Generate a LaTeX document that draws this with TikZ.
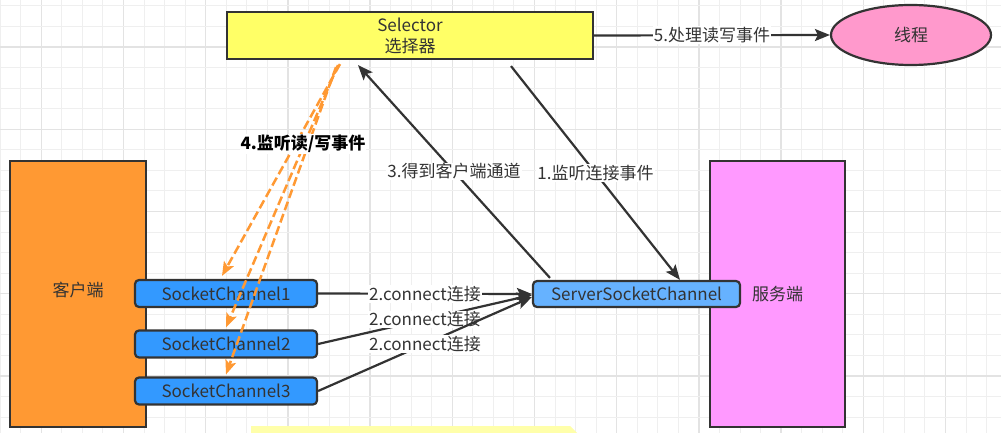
\documentclass[tikz,border=0pt]{standalone}
\usepackage{fontspec}
\setmainfont{Noto Sans CJK SC}
\usetikzlibrary{arrows.meta,calc,shapes.geometric}
\definecolor{bordergray}{HTML}{333333}
\definecolor{textgray}{HTML}{333333}
\definecolor{selyellow}{HTML}{FFFF66}
\definecolor{threadpink}{HTML}{FF99CC}
\definecolor{clientorange}{HTML}{FF9933}
\definecolor{serverpink}{HTML}{FF99FF}
\definecolor{scblue}{HTML}{3399FF}
\definecolor{sscblue}{HTML}{66B2FF}
\definecolor{dashorange}{HTML}{FF9933}
\definecolor{noteyellow}{HTML}{FFFFAA}
\definecolor{gridminor}{HTML}{EFEFEF}
\definecolor{gridmajor}{HTML}{E3E3E3}
\tikzset{
  basefont/.style={font=\fontsize{17}{21}\selectfont, text=textgray},
  boxstyle/.style={basefont, draw=bordergray, line width=2.2pt, inner sep=0pt},
  chanbox/.style={boxstyle, fill=scblue, rounded corners=4pt, minimum width=182pt, minimum height=27pt},
  conn/.style={draw=bordergray, line width=2.2pt, -{Stealth[length=15pt,width=12pt,inset=3pt]}},
  dashconn/.style={draw=dashorange, line width=2.5pt, dash pattern=on 9pt off 4pt, -{Stealth[length=14pt,width=11pt,inset=3pt]}},
  elabel/.style={basefont, fill=white, inner sep=1pt},
}
\begin{document}
\begin{tikzpicture}[x=1pt,y=-1pt]
\useasboundingbox (0,0) rectangle (1001,433);
\fill[white] (0,0) rectangle (1001,433);
\begin{scope}
\clip (0,0) rectangle (1001,433);
% grid
\foreach \i in {0,...,48}{
  \pgfmathsetmacro\xx{0.2+20.55*\i}
  \pgfmathtruncatemacro\m{mod(\i,4)}
  \ifnum\m=2
    \draw[gridmajor, line width=1.3pt] (\xx,0) -- (\xx,433);
  \else
    \draw[gridminor, line width=1pt] (\xx,0) -- (\xx,433);
  \fi
}
\foreach \i in {0,...,21}{
  \pgfmathsetmacro\yy{6.0+20.55*\i}
  \pgfmathtruncatemacro\m{mod(\i,4)}
  \ifnum\m=2
    \draw[gridmajor, line width=1.3pt] (0,\yy) -- (1001,\yy);
  \else
    \draw[gridminor, line width=1pt] (0,\yy) -- (1001,\yy);
  \fi
}
% partially visible note at bottom
\fill[noteyellow] (251,426) -- (570,426) -- (577,433) -- (577,440) -- (251,440) -- cycle;
\end{scope}

% nodes
\node[boxstyle, fill=selyellow, minimum width=366pt, minimum height=47pt, align=center] (sel) at (410,35.5) {Selector\\选择器};
\node[boxstyle, fill=threadpink, ellipse, minimum width=160pt, minimum height=60pt] (thr) at (911,35) {线程};
\node[boxstyle, fill=clientorange, minimum width=136pt, minimum height=266pt] (cli) at (78,294) {\raisebox{9pt}{客户端}};
\node[boxstyle, fill=serverpink, minimum width=135pt, minimum height=266pt] (srv) at (777.5,294) {服务端};
\node[chanbox] (sc1) at (226,293.5) {SocketChannel1};
\node[chanbox] (sc2) at (226,344) {SocketChannel2};
\node[chanbox] (sc3) at (226,391) {SocketChannel3};
\node[boxstyle, fill=sscblue, rounded corners=4pt, minimum width=207pt, minimum height=26pt] (ssc) at (636.5,294) {ServerSocketChannel};

% connectors
\draw[conn] (sel.east) -- node[elabel]{5.处理读写事件} (thr.west);
\draw[conn] (sc1.east) -- node[elabel]{2.connect连接} (ssc.west);
\draw[conn] (sc2.east) -- node[elabel]{2.connect连接} ([yshift=-1pt]ssc.west);
\draw[conn] (sc3.east) -- node[elabel]{2.connect连接} ([yshift=-3pt]ssc.west);
\draw[conn] ([xshift=101pt,yshift=-6pt]sel.south) -- node[elabel]{1.监听连接事件} ([xshift=43.5pt]ssc.north);
\draw[conn] ([xshift=-86.5pt,yshift=2pt]ssc.north) -- node[elabel]{3.得到客户端通道} ([xshift=-52pt,yshift=-5pt]sel.south);
\draw[dashconn] ([xshift=-70pt,yshift=-4pt]sel.south) -- ([xshift=-4pt,yshift=3pt]sc1.north);
\draw[dashconn] ([xshift=-72pt,yshift=-5pt]sel.south) -- ([yshift=2pt]sc2.north);
\draw[dashconn] ([xshift=-74pt,yshift=-7pt]sel.south) -- ([yshift=2pt]sc3.north);
\node[basefont, text=black, font=\fontsize{17}{21}\selectfont\bfseries, fill=white, inner sep=1pt] (lbl4) at (303,144) {4.监听读/写事件};
\end{tikzpicture}
\end{document}
